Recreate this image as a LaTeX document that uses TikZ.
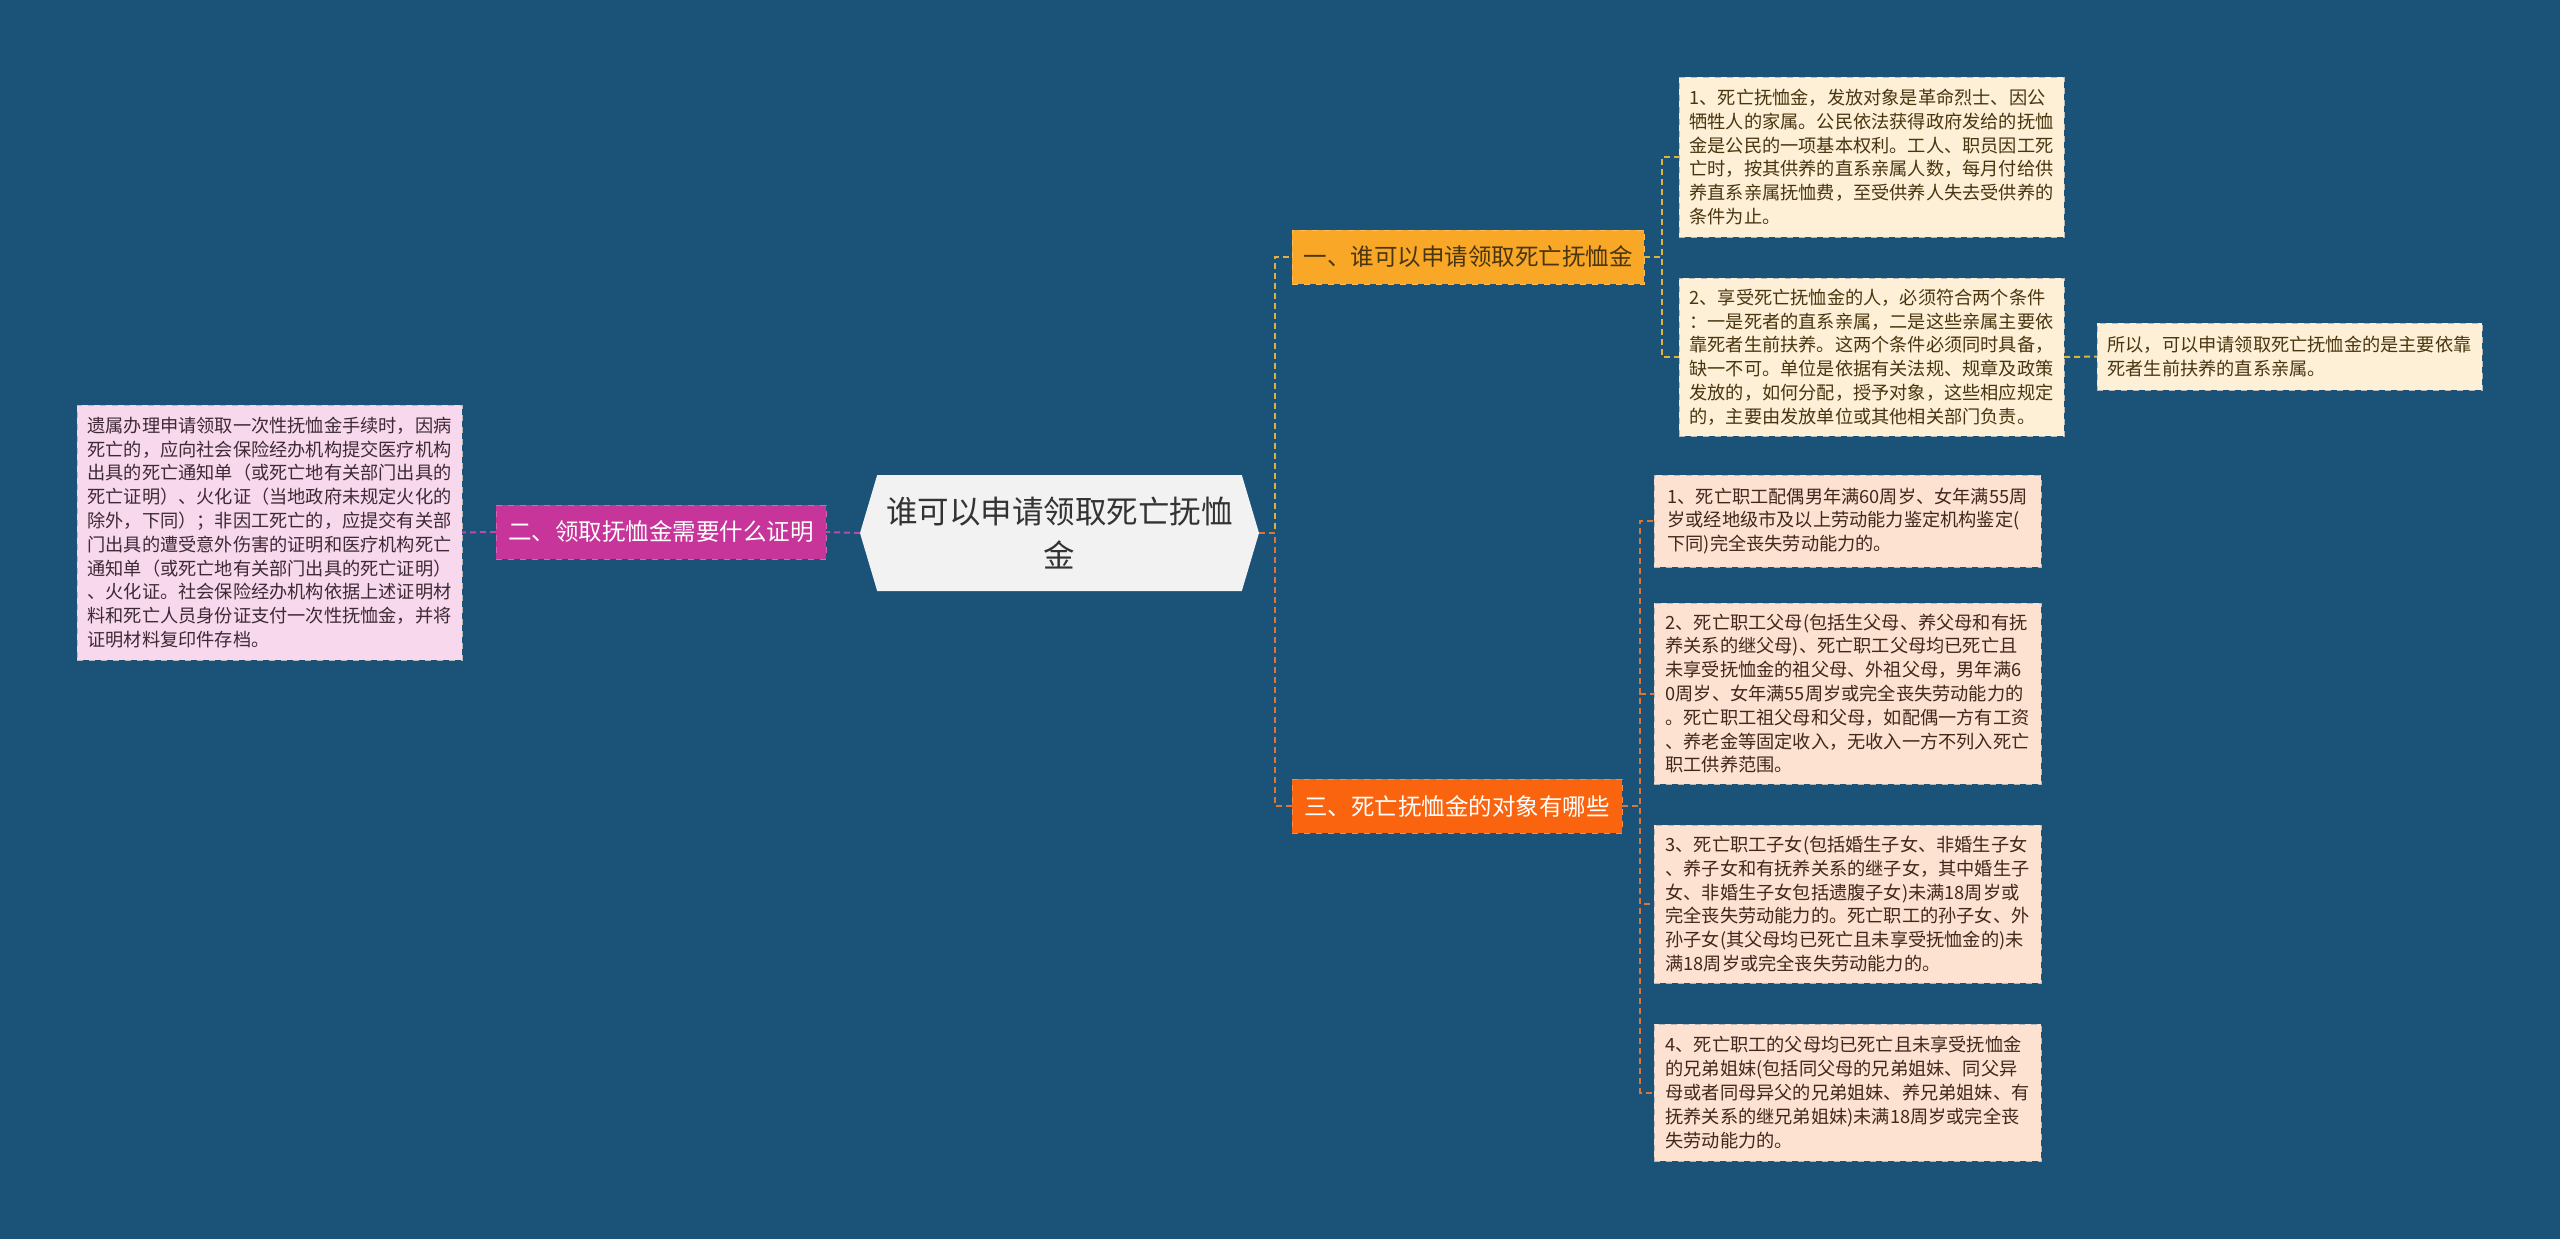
\documentclass[tikz,border=0pt]{standalone}
\usepackage{fontspec}
\setmainfont{Noto Sans CJK SC}
\usetikzlibrary{shapes.symbols}
\definecolor{map-bg}{HTML}{1B5378}
\definecolor{root-fill}{HTML}{F2F2F2}
\definecolor{root-text}{HTML}{333333}
\definecolor{proof-magenta}{HTML}{C7359A}
\definecolor{proof-leaf}{HTML}{F8D8EC}
\definecolor{proof-text}{HTML}{3D2A35}
\definecolor{proof-line}{HTML}{B84CA4}
\definecolor{who-gold}{HTML}{F8A826}
\definecolor{who-leaf}{HTML}{FDF0D6}
\definecolor{who-text}{HTML}{4A3510}
\definecolor{who-line}{HTML}{E0B040}
\definecolor{kin-orange}{HTML}{FA640F}
\definecolor{kin-leaf}{HTML}{FDE2D2}
\definecolor{kin-text}{HTML}{40281C}
\definecolor{kin-line}{HTML}{E07338}

\begin{document}
\begin{tikzpicture}[x=0.5pt, y=-0.5pt,
    every node/.style={inner sep=0pt, outer sep=0pt},
    leaf/.style={draw=gray!55, dashed, fill=#1, align=left,
      font=\fontsize{9.1pt}{11.9pt}\selectfont},
    topic/.style={draw=#1!75!white, dashed, fill=#1, minimum height=27pt,
      font=\fontsize{11.75pt}{14pt}\selectfont},
    link/.style={draw=#1, line width=1pt, dash pattern=on 3pt off 2pt}]
    \fill[map-bg] (0,0) rectangle (2560,1239);
    \useasboundingbox (0,0) rectangle (2560,1239);

    % centre
    \node[signal, signal to=east and west, signal pointer angle=147,
      fill=root-fill, text=root-text, minimum width=199.5pt, minimum height=58pt,
      align=center, font=\fontsize{15.75pt}{22pt}\selectfont]
      (root) at (1059.5,533) {谁可以申请领取死亡抚恤\\金};

    % topics
    \node[topic=proof-magenta, text=white, minimum width=165pt]
      (proof) at (661,532) {二、领取抚恤金需要什么证明};
    \node[topic=who-gold, text=who-text, minimum width=176pt]
      (who) at (1468,257) {一、谁可以申请领取死亡抚恤金};
    \node[topic=kin-orange, text=white, minimum width=165pt]
      (kin) at (1457,806) {三、死亡抚恤金的对象有哪些};

    % left branch
    \node[leaf=proof-leaf, text=proof-text, minimum width=192.5pt, minimum height=127.5pt]
      (proofnote) at (269.5,532.5) {遗属办理申请领取一次性抚恤金手续时，因病\\
      死亡的，应向社会保险经办机构提交医疗机构\\
      出具的死亡通知单（或死亡地有关部门出具的\\
      死亡证明）、火化证（当地政府未规定火化的\\
      除外，下同）；非因工死亡的，应提交有关部\\
      门出具的遭受意外伤害的证明和医疗机构死亡\\
      通知单（或死亡地有关部门出具的死亡证明）\\
      、火化证。社会保险经办机构依据上述证明材\\
      料和死亡人员身份证支付一次性抚恤金，并将\\
      证明材料复印件存档。};

    % who branch
    \node[leaf=who-leaf, text=who-text, minimum width=192.5pt, minimum height=80pt]
      (who1) at (1871.5,157) {1、死亡抚恤金，发放对象是革命烈士、因公\\
      牺牲人的家属。公民依法获得政府发给的抚恤\\
      金是公民的一项基本权利。工人、职员因工死\\
      亡时，按其供养的直系亲属人数，每月付给供\\
      养直系亲属抚恤费，至受供养人失去受供养的\\
      条件为止。};
    \node[leaf=who-leaf, text=who-text, minimum width=192.5pt, minimum height=79pt]
      (who2) at (1871.5,357) {2、享受死亡抚恤金的人，必须符合两个条件\\
      ：一是死者的直系亲属，二是这些亲属主要依\\
      靠死者生前扶养。这两个条件必须同时具备，\\
      缺一不可。单位是依据有关法规、规章及政策\\
      发放的，如何分配，授予对象，这些相应规定\\
      的，主要由发放单位或其他相关部门负责。};
    \node[leaf=who-leaf, text=who-text, minimum width=192.5pt, minimum height=33.5pt]
      (whoend) at (2289.5,356.5) {所以，可以申请领取死亡抚恤金的是主要依靠\\
      死者生前扶养的直系亲属。};

    % kin branch
    \node[leaf=kin-leaf, text=kin-text, minimum width=193.5pt, minimum height=46pt]
      (kin1) at (1847.5,521) {1、死亡职工配偶男年满60周岁、女年满55周\\
      岁或经地级市及以上劳动能力鉴定机构鉴定(\\
      下同)完全丧失劳动能力的。};
    \node[leaf=kin-leaf, text=kin-text, minimum width=193.5pt, minimum height=90.5pt]
      (kin2) at (1847.5,693.5) {2、死亡职工父母(包括生父母、养父母和有抚\\
      养关系的继父母)、死亡职工父母均已死亡且\\
      未享受抚恤金的祖父母、外祖父母，男年满6\\
      0周岁、女年满55周岁或完全丧失劳动能力的\\
      。死亡职工祖父母和父母，如配偶一方有工资\\
      、养老金等固定收入，无收入一方不列入死亡\\
      职工供养范围。};
    \node[leaf=kin-leaf, text=kin-text, minimum width=193.5pt, minimum height=79pt]
      (kin3) at (1847.5,904) {3、死亡职工子女(包括婚生子女、非婚生子女\\
      、养子女和有抚养关系的继子女，其中婚生子\\
      女、非婚生子女包括遗腹子女)未满18周岁或\\
      完全丧失劳动能力的。死亡职工的孙子女、外\\
      孙子女(其父母均已死亡且未享受抚恤金的)未\\
      满18周岁或完全丧失劳动能力的。};
    \node[leaf=kin-leaf, text=kin-text, minimum width=193.5pt, minimum height=68.5pt]
      (kin4) at (1847.5,1092.5) {4、死亡职工的父母均已死亡且未享受抚恤金\\
      的兄弟姐妹(包括同父母的兄弟姐妹、同父异\\
      母或者同母异父的兄弟姐妹、养兄弟姐妹、有\\
      抚养关系的继兄弟姐妹)未满18周岁或完全丧\\
      失劳动能力的。};

    % connectors
    \draw[link=proof-line] (root.west) -- (proof.east);
    \draw[link=proof-line] (proof.west) -- (proofnote.east);
    \draw[link=who-line] (root.east) -- ++(16,0) |- (who.west);
    \draw[link=kin-line] (root.east) -- ++(16,0) |- (kin.west);
    \draw[link=who-line] (who.east) -- ++(18,0) |- (who1.west);
    \draw[link=who-line] (who.east) -- ++(18,0) |- (who2.west);
    \draw[link=who-line] (who2.east) -- (whoend.west);
    \foreach \k in {kin1,kin2,kin3,kin4}
      \draw[link=kin-line] (kin.east) -- ++(18,0) |- (\k.west);
\end{tikzpicture}
\end{document}
